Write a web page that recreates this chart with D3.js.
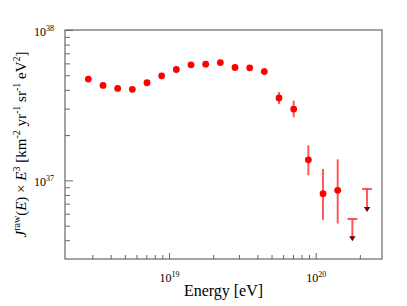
<!DOCTYPE html>
<html>
<head>
<meta charset="utf-8">
<script src="https://cdn.jsdelivr.net/npm/d3@7"></script>
<style>
  body { margin: 0; background: #fff; }
  svg text { font-family: "Liberation Serif", "DejaVu Serif", serif; fill: #000; }
</style>
</head>
<body>
<svg id="chart"></svg>
<script>
// energy bins (log10 E / eV) and flux J*E^3
var logE = [18.45, 18.55, 18.65, 18.75, 18.85, 18.95, 19.05, 19.15, 19.25, 19.35,
            19.45, 19.55, 19.65, 19.75, 19.85, 19.95, 20.05, 20.15];
var flux = [4.72e37, 4.28e37, 4.09e37, 4.03e37, 4.46e37, 4.96e37, 5.46e37, 5.87e37, 5.93e37, 6.07e37,
            5.63e37, 5.60e37, 5.29e37, 3.53e37, 2.98e37, 1.37e37, 8.16e36, 8.59e36];
var fluxHi = [null, null, null, null, null, null, null, null, null, null,
              null, null, 5.58e37, 3.87e37, 3.39e37, 1.71e37, 1.19e37, 1.38e37];
var fluxLo = [null, null, null, null, null, null, null, null, null, null,
              null, null, 5.04e37, 3.22e37, 2.63e37, 1.08e37, 5.46e36, 5.17e36];

// upper limits
var limLogE = [20.25, 20.35];
var limFlux = [5.54e36, 8.77e36];
var limTip  = [3.93e36, 6.17e36];

var xMajor = [1e19, 1e20];
var yMajor = [1e37, 1e38];

var width = 407, height = 306;
var mLeft = 65, mRight = 382, mTop = 30, mBottom = 259;

var svg = d3.select("#chart").attr("width", width).attr("height", height);

var x = d3.scaleLog().domain([Math.pow(10, 18.291), Math.pow(10, 20.452)]).range([mLeft, mRight]);
var y = d3.scaleLog().domain([3e36, 1e38]).range([mBottom, mTop]);

var axisColor = "#666";

// minor ticks: 2..9 times each decade, kept off the frame edges
function minors(scale, lo, hi) {
    var out = [];
    var r = scale.range();
    for (var p = lo; p <= hi; p++) {
        for (var m = 2; m <= 9; m++) {
            var v = m * Math.pow(10, p);
            var px = scale(v);
            if (px > Math.min(r[0], r[1]) + 3 && px < Math.max(r[0], r[1]) - 3) out.push(v);
        }
    }
    return out;
}

// x minor ticks (pointing up)
svg.append("g")
    .attr("transform", "translate(0," + mBottom + ")")
    .call(d3.axisBottom(x).tickValues(minors(x, 18, 20)).tickSize(-4).tickSizeOuter(0).tickFormat(""))
    .call(function(g){ g.select(".domain").remove(); g.selectAll("line").attr("stroke", axisColor); });

// x major ticks with labels
var gx = svg.append("g")
    .attr("transform", "translate(0," + mBottom + ")")
    .call(d3.axisBottom(x).tickValues(xMajor).tickSize(-6).tickSizeOuter(0).tickPadding(12).tickFormat(""));
gx.select(".domain").remove();
gx.selectAll("line").attr("stroke", axisColor);
gx.selectAll(".tick text")
    .attr("font-size", 12)
    .attr("dy", "0.9em")
    .each(function(d){
        var t = d3.select(this);
        t.append("tspan").text("10");
        t.append("tspan").attr("font-size", 8).attr("dy", "-5").text(Math.round(Math.log10(d)));
    });

// y minor ticks (pointing right)
svg.append("g")
    .attr("transform", "translate(" + mLeft + ",0)")
    .call(d3.axisLeft(y).tickValues(minors(y, 36, 37)).tickSize(-5).tickSizeOuter(0).tickFormat(""))
    .call(function(g){ g.select(".domain").remove(); g.selectAll("line").attr("stroke", axisColor); });

var gy = svg.append("g")
    .attr("transform", "translate(" + mLeft + ",0)")
    .call(d3.axisLeft(y).tickValues(yMajor).tickSize(-8).tickSizeOuter(0).tickPadding(11).tickFormat(""));
gy.select(".domain").remove();
gy.selectAll("line").attr("stroke", axisColor);
gy.selectAll(".tick text")
    .attr("font-size", 12)
    .attr("dy", "0.45em")
    .each(function(d){
        var t = d3.select(this);
        t.append("tspan").text("10");
        t.append("tspan").attr("font-size", 8).attr("dy", "-5").text(Math.round(Math.log10(d)));
    });

// frame
svg.append("rect")
    .attr("x", mLeft).attr("y", mTop)
    .attr("width", mRight - mLeft).attr("height", mBottom - mTop)
    .attr("fill", "none").attr("stroke", axisColor).attr("stroke-width", 1.2);

// error bars
var pts = logE.map(function(e, i){
    return {E: Math.pow(10, e), f: flux[i], hi: fluxHi[i], lo: fluxLo[i]};
});

svg.append("g").selectAll("line")
    .data(pts.filter(function(d){ return d.hi !== null; }))
    .enter().append("line")
    .attr("x1", function(d){ return x(d.E); })
    .attr("x2", function(d){ return x(d.E); })
    .attr("y1", function(d){ return y(d.hi); })
    .attr("y2", function(d){ return y(d.lo); })
    .attr("stroke", "#ff2020").attr("stroke-opacity", 0.75).attr("stroke-width", 2);

svg.append("g").selectAll("circle")
    .data(pts)
    .enter().append("circle")
    .attr("cx", function(d){ return x(d.E); })
    .attr("cy", function(d){ return y(d.f); })
    .attr("r", 3.4)
    .attr("fill", "#ff0000");

// upper limit arrows
var lims = limLogE.map(function(e, i){
    return {E: Math.pow(10, e), f: limFlux[i], tip: limTip[i]};
});
var gl = svg.append("g");
gl.selectAll("line.cap")
    .data(lims).enter().append("line")
    .attr("class", "cap")
    .attr("x1", function(d){ return x(d.E) - 5; })
    .attr("x2", function(d){ return x(d.E) + 5; })
    .attr("y1", function(d){ return y(d.f); })
    .attr("y2", function(d){ return y(d.f); })
    .attr("stroke", "#ff2020").attr("stroke-opacity", 0.75).attr("stroke-width", 2);
gl.selectAll("line.stem")
    .data(lims).enter().append("line")
    .attr("class", "stem")
    .attr("x1", function(d){ return x(d.E); })
    .attr("x2", function(d){ return x(d.E); })
    .attr("y1", function(d){ return y(d.f); })
    .attr("y2", function(d){ return y(d.tip) - 3; })
    .attr("stroke", "#ff2020").attr("stroke-opacity", 0.75).attr("stroke-width", 2);
gl.selectAll("path")
    .data(lims).enter().append("path")
    .attr("d", function(d){
        var cx = x(d.E), ty = y(d.tip);
        return "M" + (cx - 3.2) + "," + (ty - 5) + "L" + (cx + 3.2) + "," + (ty - 5) + "L" + cx + "," + ty + "Z";
    })
    .attr("fill", "#600");

// axis titles
svg.append("text")
    .attr("x", (mLeft + mRight) / 2).attr("y", 296)
    .attr("text-anchor", "middle")
    .attr("font-size", 16)
    .text("Energy [eV]");

var yt = svg.append("text")
    .attr("transform", "translate(26," + (mTop + mBottom) / 2 + ") rotate(-90)")
    .attr("text-anchor", "middle")
    .attr("font-size", 15);
yt.append("tspan").attr("font-style", "italic").text("J");
yt.append("tspan").attr("font-size", 10).attr("dy", -6).text("raw");
yt.append("tspan").attr("dy", 6).text("(");
yt.append("tspan").attr("font-style", "italic").text("E");
yt.append("tspan").text(") \u00d7 ");
yt.append("tspan").attr("font-style", "italic").text("E");
yt.append("tspan").attr("font-size", 10).attr("dy", -6).text("3");
yt.append("tspan").attr("dy", 6).text(" [km");
yt.append("tspan").attr("font-size", 10).attr("dy", -6).text("-2");
yt.append("tspan").attr("dy", 6).text(" yr");
yt.append("tspan").attr("font-size", 10).attr("dy", -6).text("-1");
yt.append("tspan").attr("dy", 6).text(" sr");
yt.append("tspan").attr("font-size", 10).attr("dy", -6).text("-1");
yt.append("tspan").attr("dy", 6).text(" eV");
yt.append("tspan").attr("font-size", 10).attr("dy", -6).text("2");
yt.append("tspan").attr("dy", 6).text("]");
</script>
</body>
</html>
